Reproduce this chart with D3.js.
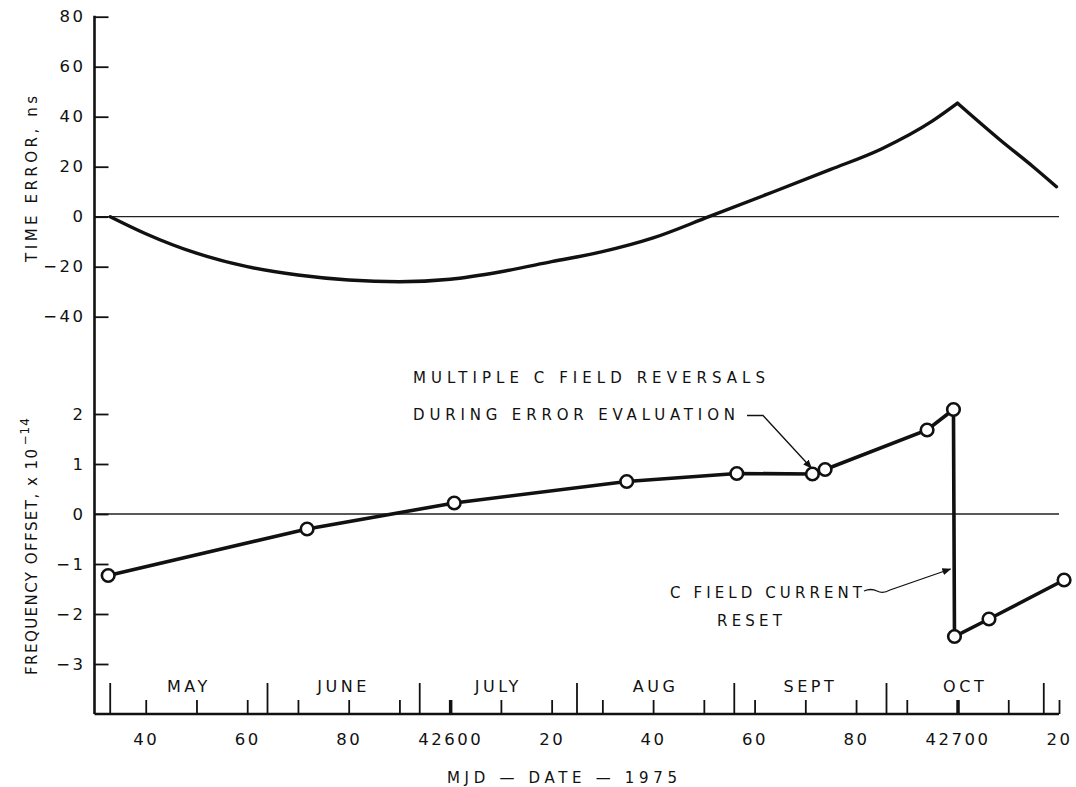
<!DOCTYPE html>
<html>
<head>
<meta charset="utf-8">
<script src="https://cdn.jsdelivr.net/npm/d3@7/dist/d3.min.js"></script>
<style>
    body { margin: 0; background: #fff; }
    #chart text { font-family: "DejaVu Sans", sans-serif; fill: #111; }
</style>
</head>
<body>
<div id="chart"></div>
<script>
// time error curve (ns)
var timeMjd = [42533, 42540, 42550, 42560, 42570, 42580, 42590, 42600, 42610, 42620, 42630, 42640, 42651, 42662, 42675, 42685, 42695, 42700, 42708.4, 42714.9, 42719.5];
var timeErrorNs = [0, -6.8, -14.6, -20, -23.3, -25.3, -26, -25, -22, -18, -14, -8.5, 0, 8.6, 18.9, 27.1, 38.2, 45.4, 30.7, 20, 12];

// frequency offset points, x 1e-14
var freqMjd = [42532.6, 42571.8, 42600.8, 42634.8, 42656.5, 42671.4, 42673.9, 42694, 42699.2, 42699.4, 42706.2, 42721];
var freqOffset = [-1.23, -0.3, 0.22, 0.65, 0.81, 0.8, 0.89, 1.68, 2.09, -2.45, -2.1, -1.32];

var timeTicks = [80, 60, 40, 20, 0, -20, -40];
var freqTicks = [2, 1, 0, -1, -2, -3];
var dayTicks = d3.range(42540, 42721, 10);
var labelTicks = d3.range(42540, 42721, 20);
var heavyTicks = [42600, 42700];
var monthStarts = [42533, 42564, 42594, 42625, 42656, 42686, 42717];
var monthNames = ['MAY', 'JUNE', 'JULY', 'AUG', 'SEPT', 'OCT'];

var width = 1076, height = 787;
var axisLeftX = 94.5, axisBottomY = 714;

var x = d3.scaleLinear().domain([42530, 42720]).range([95, 1059]);
var yTime = d3.scaleLinear().domain([-40, 80]).range([316.7, 16.7]);
var yFreq = d3.scaleLinear().domain([-3, 2]).range([664, 414]);

var svg = d3.select("#chart").append("svg")
    .attr("width", width)
    .attr("height", height)
    .attr("viewBox", "0 0 " + width + " " + height);

svg.append("defs").append("marker")
    .attr("id", "arrow")
    .attr("viewBox", "0 0 10 10")
    .attr("refX", 9)
    .attr("refY", 5)
    .attr("markerWidth", 9)
    .attr("markerHeight", 9)
    .attr("markerUnits", "userSpaceOnUse")
    .attr("orient", "auto")
    .append("path")
    .attr("d", "M0,1 L10,5 L0,9 Z")
    .attr("fill", "#111");

// zero lines
svg.append("line")
    .attr("x1", axisLeftX).attr("x2", 1059)
    .attr("y1", yTime(0)).attr("y2", yTime(0))
    .attr("stroke", "#222").attr("stroke-width", 1.3);
svg.append("line")
    .attr("x1", axisLeftX).attr("x2", 1059)
    .attr("y1", yFreq(0)).attr("y2", yFreq(0))
    .attr("stroke", "#222").attr("stroke-width", 1.3);

// left axis: one long line, two sets of ticks
svg.append("line")
    .attr("x1", axisLeftX).attr("x2", axisLeftX)
    .attr("y1", yTime(80) - 1).attr("y2", axisBottomY)
    .attr("stroke", "#111").attr("stroke-width", 2.6);

var styleAxis = function (g) {
    g.select(".domain").remove();
    g.selectAll(".tick line").attr("stroke", "#111").attr("stroke-width", 1.8);
    g.selectAll(".tick text")
        .attr("font-size", 16.5)
        .style("letter-spacing", "2.5px");
};

svg.append("g")
    .attr("transform", "translate(" + axisLeftX + ",0)")
    .call(d3.axisLeft(yTime).tickValues(timeTicks).tickSizeInner(-14).tickSizeOuter(0).tickPadding(9))
    .call(styleAxis);
svg.append("g")
    .attr("transform", "translate(" + axisLeftX + ",0)")
    .call(d3.axisLeft(yFreq).tickValues(freqTicks).tickSizeInner(-14).tickSizeOuter(0).tickPadding(9)
        .tickFormat(function (d) { return d < 0 ? "\u2212" + (-d) : d; }))
    .call(styleAxis);

// bottom axis
svg.append("line")
    .attr("x1", axisLeftX).attr("x2", x(42720))
    .attr("y1", axisBottomY).attr("y2", axisBottomY)
    .attr("stroke", "#111").attr("stroke-width", 2.6);

var xAxis = svg.append("g")
    .attr("transform", "translate(0," + axisBottomY + ")")
    .call(d3.axisBottom(x).tickValues(dayTicks).tickSizeInner(-14).tickSizeOuter(0).tickPadding(19)
        .tickFormat(function (d) {
            if (labelTicks.indexOf(d) < 0) return "";
            return d % 100 === 0 ? d : d % 100;
        }))
    .call(styleAxis);
xAxis.selectAll(".tick line")
    .attr("stroke-width", function (d) { return heavyTicks.indexOf(d) >= 0 ? 3.5 : 1.8; });

svg.append("g").selectAll("line")
    .data(monthStarts)
    .enter()
    .append("line")
    .attr("x1", function (d) { return x(d); })
    .attr("x2", function (d) { return x(d); })
    .attr("y1", axisBottomY)
    .attr("y2", axisBottomY - 31)
    .attr("stroke", "#111")
    .attr("stroke-width", 1.8);

svg.append("g").selectAll("text")
    .data(d3.pairs(monthStarts))
    .enter()
    .append("text")
    .attr("x", function (d) { return x((d[0] + d[1]) / 2); })
    .attr("y", 692)
    .attr("text-anchor", "middle")
    .attr("font-size", 16)
    .style("letter-spacing", "3.5px")
    .text(function (d, i) { return monthNames[i]; });

// time error curve, split at the peak so the corner stays sharp
var timePts = timeMjd.map(function (d, i) { return [d, timeErrorNs[i]]; });
var peak = d3.maxIndex(timeErrorNs);
var timeLine = d3.line()
    .x(function (d) { return x(d[0]); })
    .y(function (d) { return yTime(d[1]); })
    .curve(d3.curveMonotoneX);
svg.append("g").selectAll("path")
    .data([timePts.slice(0, peak + 1), timePts.slice(peak)])
    .enter()
    .append("path")
    .attr("d", timeLine)
    .attr("fill", "none")
    .attr("stroke", "#111")
    .attr("stroke-width", 3.4)
    .attr("stroke-linecap", "round");

// frequency offset points
var freqPts = freqMjd.map(function (d, i) { return [d, freqOffset[i]]; });
svg.append("path")
    .attr("d", d3.line()
        .x(function (d) { return x(d[0]); })
        .y(function (d) { return yFreq(d[1]); })(freqPts))
    .attr("fill", "none")
    .attr("stroke", "#111")
    .attr("stroke-width", 3.6);
svg.append("g").selectAll("circle")
    .data(freqPts)
    .enter()
    .append("circle")
    .attr("cx", function (d) { return x(d[0]); })
    .attr("cy", function (d) { return yFreq(d[1]); })
    .attr("r", 6.3)
    .attr("fill", "#fff")
    .attr("stroke", "#111")
    .attr("stroke-width", 2.6);

// axis titles
svg.append("text")
    .attr("transform", "translate(37,179) rotate(-90)")
    .attr("text-anchor", "middle")
    .attr("font-size", 15)
    .attr("textLength", 166)
    .attr("lengthAdjust", "spacing")
    .text("TIME ERROR, ns");

var freqTitle = svg.append("text")
    .attr("transform", "translate(37,675) rotate(-90)")
    .attr("font-size", 15);
freqTitle.append("tspan")
    .attr("textLength", 226)
    .attr("lengthAdjust", "spacing")
    .text("FREQUENCY OFFSET, x 10");
freqTitle.append("tspan")
    .attr("dx", 2)
    .attr("dy", -8)
    .attr("font-size", 12)
    .style("letter-spacing", "1px")
    .text("\u221214");

svg.append("text")
    .attr("x", 447)
    .attr("y", 783)
    .attr("font-size", 15)
    .attr("textLength", 230)
    .attr("lengthAdjust", "spacing")
    .text("MJD \u2014 DATE \u2014 1975");

// annotations
var note = function (txt, x0, y0, len) {
    svg.append("text")
        .attr("x", x0)
        .attr("y", y0)
        .attr("font-size", 15)
        .attr("textLength", len)
        .attr("lengthAdjust", "spacing")
        .text(txt);
};
note("MULTIPLE C FIELD REVERSALS", 413, 383, 352);
note("DURING ERROR EVALUATION", 413, 420, 322);
note("C FIELD CURRENT", 670, 598, 192);
note("RESET", 717, 626, 65);

var revX = x(freqMjd[5]), revY = yFreq(freqOffset[5]);
svg.append("path")
    .attr("d", "M747,415.5 L763,415.5 L" + (revX - 1) + "," + (revY - 6))
    .attr("fill", "none")
    .attr("stroke", "#111")
    .attr("stroke-width", 1.3)
    .attr("marker-end", "url(#arrow)");

var resetX = x(freqMjd[9]);
svg.append("path")
    .attr("d", "M864,591 q7,-3 13,0 t13,-1 L" + (resetX - 4) + "," + yFreq(-1.1))
    .attr("fill", "none")
    .attr("stroke", "#111")
    .attr("stroke-width", 1.3)
    .attr("marker-end", "url(#arrow)");
</script>
</body>
</html>
